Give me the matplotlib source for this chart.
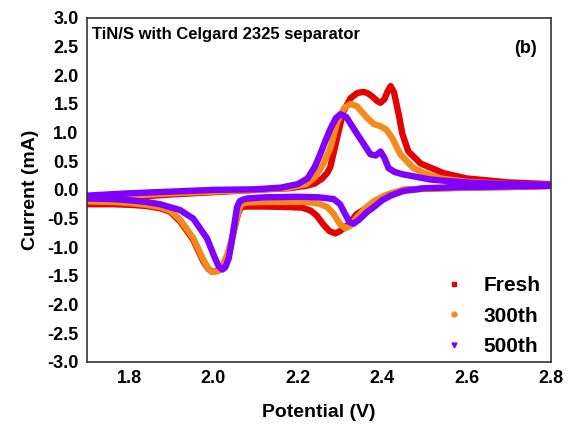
import matplotlib.pyplot as plt
from matplotlib.lines import Line2D

plt.rcParams['font.family'] = ['Liberation Sans', 'DejaVu Sans']
plt.rcParams['font.weight'] = 'bold'

# Fresh cell: anodic sweep (up) and cathodic sweep (down)
fresh_up_v = [1.70, 1.80, 1.90, 2.00, 2.10, 2.18, 2.22, 2.24, 2.258, 2.27, 2.277, 2.284, 2.296,
              2.308, 2.325, 2.341, 2.355, 2.365, 2.378, 2.388, 2.396, 2.405, 2.413, 2.42, 2.428,
              2.439, 2.448, 2.462, 2.491, 2.546, 2.60, 2.70, 2.80]
fresh_up_i = [-0.20, -0.13, -0.08, -0.04, 0.00, 0.03, 0.07, 0.11, 0.20, 0.30, 0.40, 0.62, 1.00,
              1.37, 1.60, 1.69, 1.71, 1.69, 1.62, 1.55, 1.52, 1.58, 1.72, 1.81, 1.70,
              1.32, 0.97, 0.67, 0.46, 0.29, 0.20, 0.13, 0.10]
fresh_dn_v = [2.80, 2.70, 2.60, 2.50, 2.45, 2.42, 2.40, 2.38, 2.36, 2.34, 2.32, 2.30, 2.289,
              2.275, 2.26, 2.245, 2.23, 2.21, 2.18, 2.12, 2.08, 2.065, 2.058, 2.05, 2.042,
              2.033, 2.022, 2.01, 1.997, 1.988, 1.976, 1.952, 1.921, 1.897, 1.873, 1.84, 1.80,
              1.76, 1.70]
fresh_dn_i = [0.07, 0.05, 0.04, 0.02, 0.00, -0.08, -0.15, -0.24, -0.33, -0.42, -0.60, -0.72, -0.76,
              -0.72, -0.60, -0.45, -0.36, -0.31, -0.30, -0.29, -0.29, -0.30, -0.42, -0.66, -0.92,
              -1.15, -1.32, -1.41, -1.43, -1.38, -1.25, -0.87, -0.55, -0.38, -0.32, -0.28, -0.26,
              -0.25, -0.25]

# 300th cycle
c300_up_v = [1.70, 1.80, 1.90, 2.00, 2.10, 2.18, 2.22, 2.24, 2.26, 2.277, 2.294, 2.31, 2.325,
             2.34, 2.365, 2.38, 2.396, 2.41, 2.424, 2.443, 2.474, 2.50, 2.538, 2.60,
             2.70, 2.80]
c300_up_i = [-0.15, -0.10, -0.06, -0.03, 0.00, 0.04, 0.10, 0.22, 0.45, 0.73, 1.20, 1.43, 1.50,
             1.46, 1.25, 1.15, 1.11, 1.05, 0.90, 0.62, 0.38, 0.29, 0.20, 0.14,
             0.10, 0.09]
c300_dn_v = [2.80, 2.70, 2.60, 2.50, 2.45, 2.42, 2.40, 2.38, 2.36, 2.34, 2.325, 2.313, 2.30,
             2.285, 2.27, 2.25, 2.22, 2.12, 2.08, 2.065, 2.058, 2.05, 2.042, 2.033, 2.022,
             2.01, 1.997, 1.988, 1.976, 1.952, 1.921, 1.897, 1.873, 1.84, 1.80, 1.76, 1.70]
c300_dn_i = [0.07, 0.05, 0.04, 0.02, 0.00, -0.06, -0.12, -0.20, -0.32, -0.48, -0.62, -0.67, -0.60,
             -0.42, -0.30, -0.24, -0.21, -0.21, -0.22, -0.25, -0.40, -0.64, -0.90, -1.13, -1.32,
             -1.42, -1.43, -1.37, -1.22, -0.84, -0.52, -0.36, -0.30, -0.26, -0.23, -0.21, -0.20]

# 500th cycle
c500_up_v = [1.70, 1.80, 1.90, 2.00, 2.10, 2.16, 2.20, 2.223, 2.24, 2.253, 2.265, 2.277, 2.29,
             2.301, 2.315, 2.341, 2.358, 2.372, 2.385, 2.396, 2.405, 2.415, 2.43, 2.45, 2.515,
             2.562, 2.62, 2.70, 2.80]
c500_up_i = [-0.10, -0.06, -0.03, 0.00, 0.01, 0.04, 0.10, 0.20, 0.40, 0.62, 0.85, 1.06, 1.25,
             1.32, 1.27, 0.97, 0.78, 0.62, 0.60, 0.67, 0.56, 0.38, 0.31, 0.27, 0.18,
             0.15, 0.12, 0.10, 0.09]
c500_dn_v = [2.80, 2.70, 2.60, 2.50, 2.45, 2.42, 2.40, 2.38, 2.365, 2.345, 2.332, 2.322, 2.312,
             2.30, 2.285, 2.25, 2.20, 2.12, 2.08, 2.07, 2.062, 2.056, 2.05, 2.043, 2.036,
             2.028, 2.021, 2.012, 2.004, 1.985, 1.952, 1.92, 1.873, 1.84, 1.80, 1.76, 1.70]
c500_dn_i = [0.07, 0.06, 0.05, 0.03, -0.02, -0.10, -0.18, -0.30, -0.38, -0.52, -0.59, -0.56, -0.42,
             -0.25, -0.16, -0.13, -0.12, -0.13, -0.15, -0.17, -0.20, -0.30, -0.58, -0.92, -1.20,
             -1.35, -1.39, -1.33, -1.20, -0.85, -0.50, -0.35, -0.25, -0.21, -0.18, -0.16, -0.15]

labels = ['Fresh', '300th', '500th']
colors = ['#e60000', '#f48a1c', '#7f00ff']
markers = ['s', 'o', 'v']

fig = plt.figure(figsize=(5.68, 4.37), dpi=100)
ax = fig.add_axes([0.153, 0.172, 0.817, 0.787])

series = [(fresh_up_v, fresh_up_i, fresh_dn_v, fresh_dn_i),
          (c300_up_v, c300_up_i, c300_dn_v, c300_dn_i),
          (c500_up_v, c500_up_i, c500_dn_v, c500_dn_i)]
for (uv, ui, dv, di), col in zip(series, colors):
    ax.plot(uv + dv, ui + di, color=col, lw=4.6, solid_capstyle='round', solid_joinstyle='round')

ax.set_xlim(1.7, 2.8)
ax.set_ylim(-3.0, 3.0)
ax.set_xticks([1.8, 2.0, 2.2, 2.4, 2.6, 2.8])
ax.set_yticks([-3.0, -2.5, -2.0, -1.5, -1.0, -0.5, 0.0, 0.5, 1.0, 1.5, 2.0, 2.5, 3.0])
ax.set_xticklabels(['%.1f' % t for t in ax.get_xticks()])
ax.set_yticklabels(['%.1f' % t for t in ax.get_yticks()])
ax.tick_params(length=0, labelsize=13, pad=6)
for s in ax.spines.values():
    s.set_linewidth(1.2)
    s.set_color('#333333')

ax.set_xlabel('Potential (V)', fontsize=14, fontweight='bold', labelpad=12)
ax.set_ylabel('Current (mA)', fontsize=14, fontweight='bold', labelpad=6)

ax.text(0.012, 0.975, 'TiN/S with Celgard 2325 separator', transform=ax.transAxes,
        fontsize=12, fontweight='bold', va='top', ha='left')
ax.text(0.97, 0.935, '(b)', transform=ax.transAxes, fontsize=13, fontweight='bold',
        va='top', ha='right')

handles = [Line2D([], [], ls='none', marker=m, color=c, markersize=3.5)
           for m, c in zip(markers, colors)]
ax.legend(handles, labels, loc='lower right', bbox_to_anchor=(1.0, -0.014), frameon=False,
          prop={'weight': 'bold', 'size': 15},
          labelspacing=0.56, handletextpad=0.9, borderaxespad=0.1, handlelength=1.0)

fig.savefig('out.png', dpi=100)
